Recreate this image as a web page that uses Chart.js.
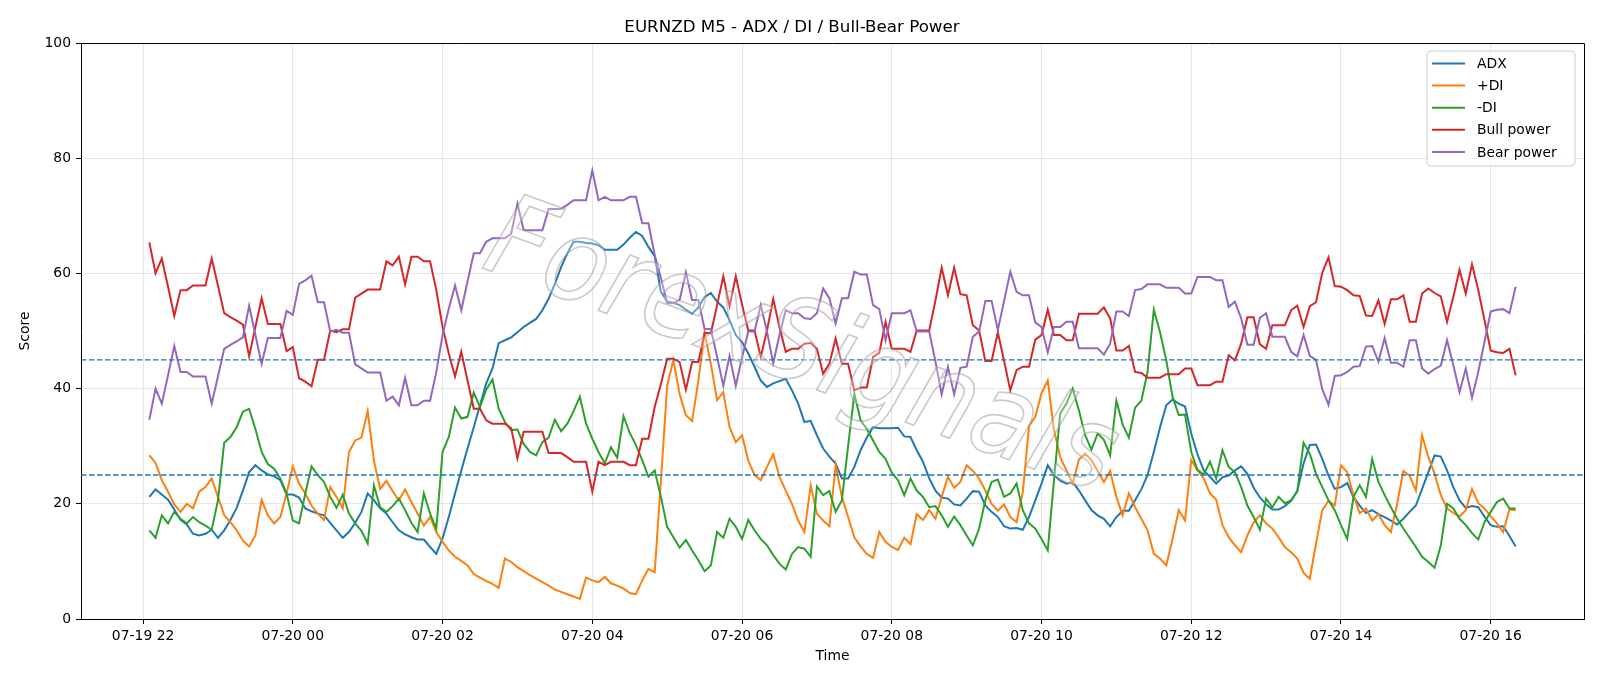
<!DOCTYPE html>
<html>
<head>
<meta charset="utf-8">
<script src="https://cdn.jsdelivr.net/npm/chart.js@4.4.1/dist/chart.umd.min.js"></script>
<style>
  html, body { margin: 0; padding: 0; background: #fff; }
  #wrap { width: 1600px; height: 686px; }
</style>
</head>
<body>
<div id="wrap"><canvas id="chart" width="1600" height="686"></canvas></div>
<script>
// ---- data (5 minute bars, first bar 07-19 22:05) ----
const startMinute = 5;      // minutes after 07-19 22:00
const stepMinutes = 5;

const tickMinutes = [0, 120, 240, 360, 480, 600, 720, 840, 960, 1080];
const tickLabels = ['07-19 22', '07-20 00', '07-20 02', '07-20 04', '07-20 06',
                    '07-20 08', '07-20 10', '07-20 12', '07-20 14', '07-20 16'];

const thresholds = [45, 25];

const adx = [
  21.2, 22.5, 21.6, 20.7, 19.0, 17.2, 16.4, 14.8, 14.5, 14.8,
  15.5, 14.1, 15.4, 17.2, 19.3, 22.3, 25.5, 26.7, 25.8, 25.1,
  24.8, 24.1, 21.6, 21.6, 21.1, 19.2, 18.7, 18.3, 18.0, 16.7,
  15.4, 14.1, 15.1, 16.7, 18.6, 21.8, 20.6, 19.2, 18.3, 16.8,
  15.4, 14.7, 14.2, 13.8, 13.8, 12.5, 11.3, 14.0, 17.7, 21.8,
  25.8, 29.6, 33.3, 37.1, 40.9, 43.5, 47.9, 48.4, 48.9, 49.8,
  50.7, 51.4, 52.1, 53.6, 55.6, 58.2, 61.1, 63.5, 65.5, 65.5,
  65.3, 65.2, 64.9, 64.1, 64.1, 64.1, 65.0, 66.2, 67.2, 66.5,
  64.6, 63.0, 56.8, 55.1, 54.9, 54.5, 53.7, 53.0, 54.1, 55.9,
  56.6, 55.1, 54.1, 51.9, 49.3, 48.1, 46.1, 43.8, 41.4, 40.3,
  40.9, 41.3, 41.7, 39.7, 37.4, 34.2, 34.4, 31.9, 29.6, 28.2,
  27.0, 24.4, 24.4, 26.4, 29.3, 31.5, 33.3, 33.1, 33.1, 33.1,
  33.2, 31.7, 31.6, 29.3, 27.3, 24.4, 22.3, 21.1, 20.9, 19.9,
  19.7, 20.9, 22.2, 22.1, 19.7, 18.6, 17.7, 16.1, 15.7, 15.8,
  15.5, 17.7, 20.6, 23.5, 26.7, 25.0, 24.0, 23.5, 23.8, 22.3,
  20.6, 18.9, 18.0, 17.4, 16.1, 17.7, 18.8, 18.8, 20.6, 22.5,
  25.0, 29.0, 33.3, 37.1, 38.1, 37.4, 36.9, 32.2, 28.6, 25.8,
  24.7, 23.5, 24.6, 24.9, 25.8, 26.5, 25.2, 22.8, 21.1, 19.9,
  19.0, 19.0, 19.6, 20.5, 22.2, 27.0, 30.2, 30.3, 27.8, 24.9,
  22.6, 22.9, 23.6, 21.2, 19.7, 18.4, 18.9, 18.2, 17.7, 17.1,
  16.4, 17.4, 18.6, 19.7, 22.6, 25.5, 28.4, 28.2, 25.8, 22.9,
  20.6, 19.3, 19.6, 19.4, 17.8, 16.3, 16.0, 16.1, 14.4, 12.6
];

const plusDI = [
  28.4, 27.1, 24.1, 22.1, 19.9, 18.6, 20.0, 19.2, 22.1, 22.9,
  24.4, 21.2, 18.0, 16.8, 15.4, 13.6, 12.6, 14.5, 20.7, 18.0,
  16.6, 17.7, 21.8, 26.5, 23.5, 21.8, 19.7, 18.3, 17.2, 22.9,
  21.2, 19.2, 29.0, 31.0, 31.5, 36.1, 27.5, 22.6, 24.0, 22.2,
  20.6, 22.5, 20.3, 18.3, 16.2, 17.7, 15.1, 13.4, 11.9, 10.8,
  10.1, 9.3, 7.8, 7.2, 6.6, 6.1, 5.4, 10.5, 9.9, 9.0,
  8.3, 7.6, 7.0, 6.4, 5.8, 5.1, 4.7, 4.3, 3.9, 3.5,
  7.2, 6.7, 6.4, 7.3, 6.2, 5.8, 5.3, 4.5, 4.3, 6.7,
  8.7, 8.1, 24.0, 40.5, 45.0, 39.0, 35.4, 34.4, 41.4, 49.7,
  44.3, 38.0, 39.4, 33.3, 30.7, 31.9, 27.5, 25.0, 24.1, 26.4,
  28.6, 24.7, 22.3, 20.0, 17.1, 15.1, 23.2, 18.3, 17.1, 16.1,
  26.7, 21.2, 17.7, 14.2, 12.6, 11.3, 10.6, 15.1, 13.4, 12.5,
  12.0, 14.1, 13.0, 18.2, 17.2, 18.9, 17.4, 21.2, 24.7, 22.8,
  23.8, 26.7, 25.7, 24.4, 22.3, 20.0, 18.8, 19.9, 17.7, 16.8,
  22.0, 33.5, 35.1, 39.2, 41.4, 32.8, 28.1, 25.8, 23.5, 27.7,
  28.7, 27.6, 25.7, 23.8, 25.7, 21.2, 18.0, 21.8, 19.4, 17.4,
  15.4, 11.3, 10.5, 9.3, 13.9, 18.9, 17.1, 27.6, 25.8, 24.4,
  21.8, 20.7, 16.3, 14.2, 12.8, 11.6, 14.5, 16.8, 18.0, 16.6,
  15.7, 14.2, 12.5, 11.6, 10.5, 8.0, 7.0, 13.1, 18.9, 20.5,
  19.7, 26.7, 25.5, 21.5, 18.4, 19.2, 17.1, 18.2, 16.3, 15.1,
  20.0, 25.7, 24.9, 22.3, 31.9, 28.1, 25.2, 21.5, 19.2, 18.4,
  17.8, 18.9, 22.6, 20.1, 19.2, 17.8, 16.6, 15.1, 19.0, 18.9
];

const minusDI = [
  15.4, 14.1, 18.0, 16.6, 18.6, 17.4, 16.6, 17.7, 16.8, 16.2,
  15.5, 20.6, 30.6, 31.6, 33.3, 36.0, 36.5, 33.0, 29.0, 26.9,
  26.1, 24.4, 21.8, 17.1, 16.6, 21.8, 26.5, 25.0, 23.8, 21.2,
  19.3, 21.6, 18.3, 16.6, 15.3, 13.1, 23.2, 19.4, 18.6, 19.6,
  20.9, 18.9, 16.7, 15.1, 21.8, 18.3, 15.7, 29.0, 31.6, 36.7,
  34.8, 35.1, 39.3, 36.8, 39.8, 41.6, 36.5, 34.2, 32.8, 32.9,
  30.4, 29.0, 28.4, 30.7, 31.5, 34.6, 32.6, 33.9, 36.1, 38.6,
  33.9, 31.3, 29.0, 27.0, 29.8, 28.0, 35.2, 32.3, 30.2, 27.6,
  24.7, 25.8, 21.2, 16.0, 14.2, 12.4, 13.7, 11.9, 10.2, 8.3,
  9.3, 15.1, 14.1, 17.4, 16.0, 13.9, 17.2, 15.4, 13.9, 12.8,
  11.1, 9.6, 8.6, 11.3, 12.5, 12.2, 10.8, 23.0, 21.5, 22.2,
  18.6, 20.6, 30.0, 39.1, 34.5, 33.0, 31.0, 29.0, 27.8, 25.4,
  24.1, 21.5, 24.4, 22.3, 21.2, 19.4, 19.6, 18.0, 16.0, 17.8,
  16.3, 14.5, 12.8, 15.7, 20.6, 23.8, 24.2, 21.2, 21.8, 23.5,
  18.9, 16.6, 15.7, 13.9, 11.9, 24.1, 35.7, 37.4, 40.0, 36.2,
  31.9, 29.4, 32.2, 31.1, 28.4, 37.9, 33.8, 31.5, 36.7, 37.9,
  42.9, 53.7, 49.8, 44.9, 38.6, 35.4, 35.5, 29.0, 25.9, 25.1,
  27.3, 24.4, 29.3, 26.4, 25.5, 22.9, 19.7, 17.7, 15.5, 20.9,
  19.4, 21.2, 20.1, 20.6, 22.2, 30.6, 28.7, 25.2, 22.9, 20.6,
  18.9, 16.3, 13.9, 21.2, 23.2, 21.2, 27.8, 23.8, 21.5, 19.4,
  17.4, 15.7, 14.1, 12.5, 10.8, 9.9, 8.9, 12.8, 20.0, 19.2,
  17.4, 16.3, 14.9, 13.8, 16.8, 18.6, 20.3, 20.9, 19.2, 19.2
];

const bullPower = [
  65.4, 60.0, 62.6, 57.7, 52.6, 57.1, 57.1, 57.9, 57.9, 57.9,
  62.6, 57.9, 53.1, 52.4, 51.8, 51.1, 45.6, 50.7, 55.7, 51.2,
  51.2, 51.2, 46.5, 47.2, 41.8, 41.2, 40.4, 45.0, 45.0, 50.1,
  49.8, 50.3, 50.3, 55.8, 56.5, 57.2, 57.2, 57.2, 62.1, 61.4,
  62.9, 58.1, 62.9, 62.9, 62.1, 62.1, 57.1, 50.7, 46.1, 42.1,
  46.4, 41.4, 36.5, 36.5, 34.5, 33.9, 33.9, 33.9, 33.1, 27.9,
  32.5, 32.5, 32.5, 32.5, 28.8, 28.8, 28.8, 28.1, 27.3, 27.3,
  27.3, 22.1, 27.3, 26.7, 27.3, 27.3, 27.3, 26.7, 26.7, 31.3,
  31.3, 36.8, 40.8, 45.2, 45.2, 44.6, 39.8, 44.6, 44.6, 49.7,
  49.6, 54.5, 59.5, 54.3, 59.5, 54.6, 50.1, 50.1, 45.5, 50.1,
  55.6, 50.7, 46.4, 46.9, 46.9, 47.8, 47.9, 46.9, 42.6, 44.3,
  48.7, 44.3, 44.3, 39.7, 40.2, 40.2, 45.5, 46.2, 51.6, 46.9,
  46.9, 46.9, 46.4, 50.1, 50.1, 50.1, 55.3, 61.0, 56.2, 61.0,
  56.4, 56.2, 51.0, 50.1, 44.8, 44.8, 49.8, 44.8, 39.7, 43.2,
  43.8, 43.8, 48.5, 49.3, 53.7, 49.3, 49.3, 48.4, 48.4, 53.0,
  53.0, 53.0, 53.0, 54.1, 52.2, 46.6, 46.6, 47.4, 42.9, 42.7,
  41.9, 41.9, 41.9, 42.5, 42.5, 42.5, 43.5, 43.5, 40.6, 40.6,
  40.6, 41.2, 41.2, 45.8, 44.9, 47.8, 52.4, 52.4, 47.7, 46.9,
  51.0, 51.0, 51.0, 53.6, 54.4, 50.7, 54.3, 55.0, 60.1, 62.8,
  57.8, 57.7, 57.1, 56.2, 56.1, 52.7, 52.6, 55.3, 51.2, 55.5,
  55.5, 56.2, 51.6, 51.6, 56.5, 57.4, 56.6, 56.0, 51.6, 55.9,
  60.6, 56.5, 61.6, 57.1, 51.9, 46.6, 46.3, 46.2, 46.9, 42.3
];

const bearPower = [
  34.6, 40.0, 37.4, 42.3, 47.4, 42.9, 42.9, 42.1, 42.1, 42.1,
  37.4, 42.1, 46.9, 47.6, 48.2, 48.9, 54.4, 49.3, 44.3, 48.8,
  48.8, 48.8, 53.5, 52.8, 58.2, 58.8, 59.6, 55.0, 55.0, 49.9,
  50.2, 49.7, 49.7, 44.2, 43.5, 42.8, 42.8, 42.8, 37.9, 38.6,
  37.1, 41.9, 37.1, 37.1, 37.9, 37.9, 42.9, 49.3, 53.9, 57.9,
  53.6, 58.6, 63.5, 63.5, 65.5, 66.1, 66.1, 66.1, 66.9, 72.1,
  67.5, 67.5, 67.5, 67.5, 71.2, 71.2, 71.2, 71.9, 72.7, 72.7,
  72.7, 77.9, 72.7, 73.3, 72.7, 72.7, 72.7, 73.3, 73.3, 68.7,
  68.7, 63.2, 59.2, 54.8, 54.8, 55.4, 60.2, 55.4, 55.4, 50.3,
  50.4, 45.5, 40.5, 45.7, 40.5, 45.4, 49.9, 49.9, 54.5, 49.9,
  44.4, 49.3, 53.6, 53.1, 53.1, 52.2, 52.1, 53.1, 57.4, 55.7,
  51.3, 55.7, 55.7, 60.3, 59.8, 59.8, 54.5, 53.8, 48.4, 53.1,
  53.1, 53.1, 53.6, 49.9, 49.9, 49.9, 44.7, 39.0, 43.8, 39.0,
  43.6, 43.8, 49.0, 49.9, 55.2, 55.2, 50.2, 55.2, 60.3, 56.8,
  56.2, 56.2, 51.5, 50.7, 46.3, 50.7, 50.7, 51.6, 51.6, 47.0,
  47.0, 47.0, 47.0, 45.9, 47.8, 53.4, 53.4, 52.6, 57.1, 57.3,
  58.1, 58.1, 58.1, 57.5, 57.5, 57.5, 56.5, 56.5, 59.4, 59.4,
  59.4, 58.8, 58.8, 54.2, 55.1, 52.2, 47.6, 47.6, 52.3, 53.1,
  49.0, 49.0, 49.0, 46.4, 45.6, 49.3, 45.7, 45.0, 39.9, 37.2,
  42.2, 42.3, 42.9, 43.8, 43.9, 47.3, 47.4, 44.7, 48.8, 44.5,
  44.5, 43.8, 48.4, 48.4, 43.5, 42.6, 43.4, 44.0, 48.4, 44.1,
  39.4, 43.5, 38.4, 42.9, 48.1, 53.4, 53.7, 53.8, 53.1, 57.7
];

// ---- chart setup ----
const FONT = '"DejaVu Sans", "Liberation Sans", sans-serif';
const MARK_FONT = '"Liberation Sans Narrow", "DejaVu Sans Condensed", "Liberation Sans", sans-serif';
const series = [
  { label: 'ADX', values: adx, color: '#1f77b4' },
  { label: '+DI', values: plusDI, color: '#ff7f0e' },
  { label: '-DI', values: minusDI, color: '#2ca02c' },
  { label: 'Bull power', values: bullPower, color: '#d62728' },
  { label: 'Bear power', values: bearPower, color: '#9467bd' }
];

function toPoints(values) {
  return values.map((v, i) => ({ x: startMinute + i * stepMinutes, y: v }));
}

// matplotlib style 5% x margins
const firstX = startMinute;
const lastX = startMinute + (adx.length - 1) * stepMinutes;
const xPad = (lastX - firstX) * 0.05;

const gridColor = 'rgba(176,176,176,0.3)';

// frame, dashed levels, watermark, legend
const extras = {
  id: 'extras',
  afterDatasetsDraw(chart) {
    const ctx = chart.ctx;
    const area = chart.chartArea;
    const yScale = chart.scales.y;

    ctx.save();
    ctx.beginPath();
    ctx.rect(area.left, area.top, area.right - area.left, area.bottom - area.top);
    ctx.clip();

    // dashed level lines
    ctx.strokeStyle = '#1f77b4';
    ctx.lineWidth = 1.3;
    ctx.setLineDash([5.5, 2.5]);
    thresholds.forEach(level => {
      const y = yScale.getPixelForValue(level);
      ctx.beginPath();
      ctx.moveTo(area.left, y);
      ctx.lineTo(area.right, y);
      ctx.stroke();
    });
    ctx.setLineDash([]);

    // watermark
    ctx.translate(800, 352);
    ctx.rotate(20 * Math.PI / 180);
    ctx.font = 'italic 100px ' + MARK_FONT;
    const w = ctx.measureText('ForexSignals').width;
    const size = 100 * 660 / w;
    ctx.font = 'italic ' + size.toFixed(1) + 'px ' + MARK_FONT;
    ctx.textAlign = 'center';
    ctx.textBaseline = 'middle';
    ctx.fillStyle = 'rgba(255,255,255,0.3)';
    ctx.fillText('ForexSignals', 0, 0);
    ctx.strokeStyle = 'rgba(150,150,150,0.5)';
    ctx.lineWidth = 1.6;
    ctx.strokeText('ForexSignals', 0, 0);
    ctx.restore();

    // top and right spines
    ctx.save();
    ctx.strokeStyle = '#000';
    ctx.lineWidth = 1;
    ctx.beginPath();
    ctx.moveTo(area.left, area.top + 0.5);
    ctx.lineTo(area.right + 0.5, area.top + 0.5);
    ctx.lineTo(area.right + 0.5, area.bottom);
    ctx.stroke();
    ctx.restore();

    // legend box (upper right)
    ctx.save();
    const bx = 1427, by = 51, bw = 148, bh = 115, r = 4;
    ctx.beginPath();
    ctx.moveTo(bx + r, by);
    ctx.arcTo(bx + bw, by, bx + bw, by + bh, r);
    ctx.arcTo(bx + bw, by + bh, bx, by + bh, r);
    ctx.arcTo(bx, by + bh, bx, by, r);
    ctx.arcTo(bx, by, bx + bw, by, r);
    ctx.closePath();
    ctx.fillStyle = 'rgba(255,255,255,0.8)';
    ctx.fill();
    ctx.strokeStyle = '#cccccc';
    ctx.lineWidth = 1;
    ctx.stroke();
    ctx.font = '13.9px ' + FONT;
    ctx.textBaseline = 'middle';
    ctx.fillStyle = '#000';
    chart.data.datasets.forEach((ds, i) => {
      const rowY = 63.5 + i * 22.1;
      ctx.strokeStyle = ds.borderColor;
      ctx.lineWidth = 2;
      ctx.beginPath();
      ctx.moveTo(1432, rowY);
      ctx.lineTo(1465, rowY);
      ctx.stroke();
      ctx.fillText(ds.label, 1477, rowY + 1);
    });
    ctx.restore();
  }
};

new Chart(document.getElementById('chart'), {
  type: 'line',
  data: {
    datasets: series.map((s, i) => ({
      label: s.label,
      data: toPoints(s.values),
      borderColor: s.color,
      backgroundColor: s.color,
      borderWidth: 2,
      pointRadius: 0,
      tension: 0,
      fill: false,
      order: series.length - i
    }))
  },
  options: {
    responsive: false,
    animation: false,
    layout: { padding: { top: 0, right: 16, bottom: 0, left: 0 } },
    plugins: {
      legend: { display: false },
      tooltip: { enabled: false },
      title: {
        display: true,
        text: 'EURNZD M5 - ADX / DI / Bull-Bear Power',
        color: '#000',
        font: { family: FONT, size: 16.7, weight: 'normal' },
        padding: { top: 18, bottom: 5 }
      }
    },
    scales: {
      x: {
        type: 'linear',
        min: firstX - xPad,
        max: lastX + xPad,
        afterFit(scale) { scale.height = 67; },
        afterBuildTicks(scale) { scale.ticks = tickMinutes.map(v => ({ value: v })); },
        ticks: {
          autoSkip: false,
          maxRotation: 0,
          color: '#000',
          padding: 4,
          font: { family: FONT, size: 13.9 },
          callback: (value, index) => tickLabels[index]
        },
        grid: { color: gridColor, lineWidth: 1, tickColor: '#000', tickLength: 5, tickWidth: 1 },
        border: { display: true, color: '#000', width: 1 },
        title: {
          display: true,
          text: 'Time',
          color: '#000',
          font: { family: FONT, size: 13.9 },
          padding: { top: 0, bottom: 21.6 }
        }
      },
      y: {
        min: 0,
        max: 100,
        afterFit(scale) { scale.width = 81; },
        ticks: {
          stepSize: 20,
          color: '#000',
          padding: 5,
          font: { family: FONT, size: 13.9 }
        },
        grid: { color: gridColor, lineWidth: 1, tickColor: '#000', tickLength: 5, tickWidth: 1 },
        border: { display: true, color: '#000', width: 1 },
        title: {
          display: true,
          text: 'Score',
          color: '#000',
          font: { family: FONT, size: 13.9 },
          padding: { top: 17, bottom: 0 }
        }
      }
    }
  },
  plugins: [extras]
});
</script>
</body>
</html>
